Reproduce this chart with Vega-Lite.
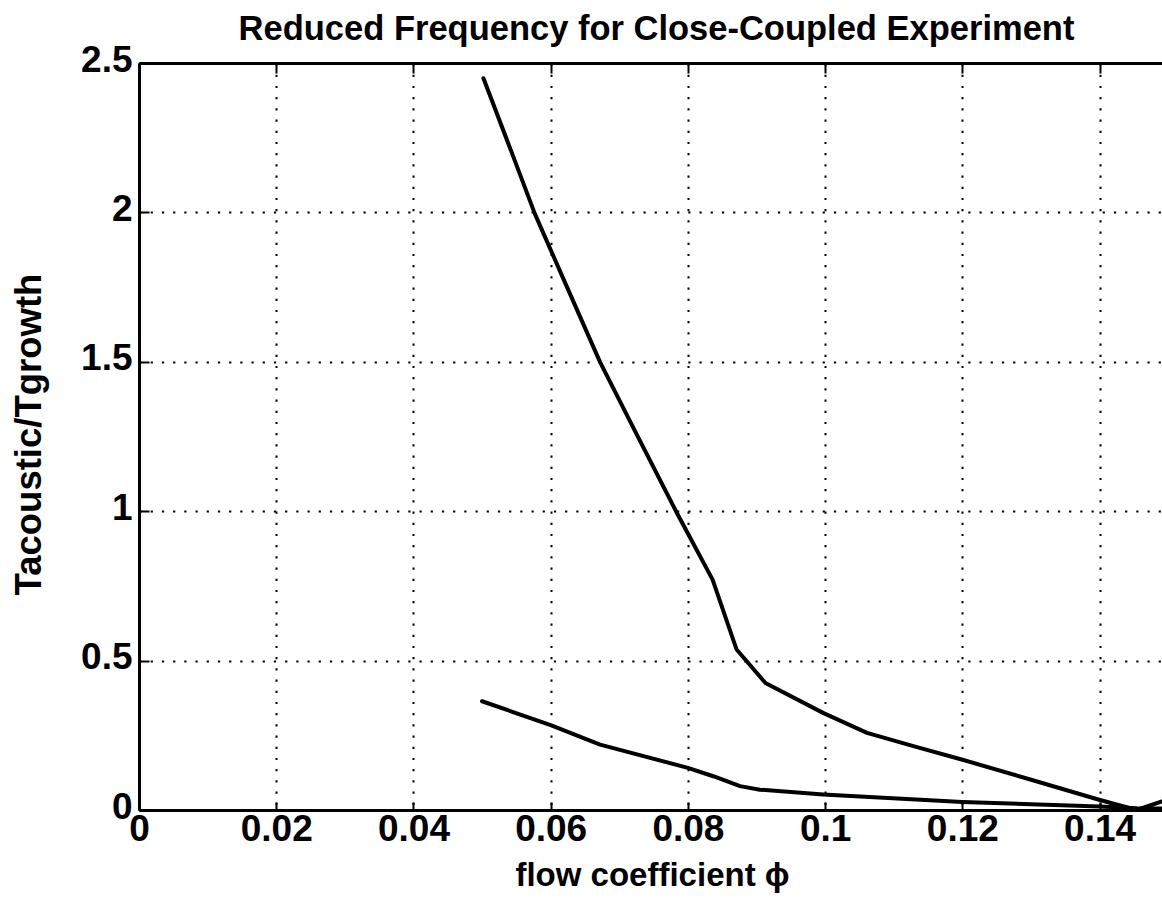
{
  "$schema": "https://vega.github.io/schema/vega-lite/v6.json",
  "autosize": {"type": "none"},
  "padding": {"left": 139, "top": 63, "right": 0, "bottom": 108},
  "width": 1023,
  "height": 747,
  "background": "white",
  "config": {"view": {"stroke": null}, "font": "Liberation Sans"},
  "title": {
    "text": "Reduced Frequency for Close-Coupled Experiment",
    "fontSize": 34.5,
    "fontWeight": "bold",
    "color": "black",
    "frame": "group",
    "anchor": "middle",
    "baseline": "alphabetic",
    "offset": -33,
    "dx": 6
  },
  "data": {
    "values": [
      {"series": "upper", "phi": 0.0502, "ratio": 2.449},
      {"series": "upper", "phi": 0.054, "ratio": 2.22},
      {"series": "upper", "phi": 0.0577, "ratio": 1.995},
      {"series": "upper", "phi": 0.062, "ratio": 1.77},
      {"series": "upper", "phi": 0.0672, "ratio": 1.499},
      {"series": "upper", "phi": 0.0725, "ratio": 1.259},
      {"series": "upper", "phi": 0.0784, "ratio": 0.994},
      {"series": "upper", "phi": 0.0836, "ratio": 0.771},
      {"series": "upper", "phi": 0.0871, "ratio": 0.537},
      {"series": "upper", "phi": 0.0913, "ratio": 0.425},
      {"series": "upper", "phi": 0.0997, "ratio": 0.325},
      {"series": "upper", "phi": 0.1061, "ratio": 0.258},
      {"series": "upper", "phi": 0.113, "ratio": 0.213},
      {"series": "upper", "phi": 0.1199, "ratio": 0.169},
      {"series": "upper", "phi": 0.1299, "ratio": 0.102},
      {"series": "upper", "phi": 0.1398, "ratio": 0.035},
      {"series": "upper", "phi": 0.1454, "ratio": 0.0},
      {"series": "upper", "phi": 0.1491, "ratio": 0.029},
      {"series": "lower", "phi": 0.05, "ratio": 0.364},
      {"series": "lower", "phi": 0.06, "ratio": 0.284},
      {"series": "lower", "phi": 0.0672, "ratio": 0.219},
      {"series": "lower", "phi": 0.08, "ratio": 0.141},
      {"series": "lower", "phi": 0.0837, "ratio": 0.113},
      {"series": "lower", "phi": 0.0876, "ratio": 0.08},
      {"series": "lower", "phi": 0.0905, "ratio": 0.068},
      {"series": "lower", "phi": 0.0997, "ratio": 0.052},
      {"series": "lower", "phi": 0.12, "ratio": 0.027},
      {"series": "lower", "phi": 0.14, "ratio": 0.012},
      {"series": "lower", "phi": 0.1454, "ratio": 0.006},
      {"series": "lower", "phi": 0.1491, "ratio": 0.005}
    ]
  },
  "layer": [
    {
      "mark": {"type": "line", "stroke": "black", "strokeWidth": 4, "strokeCap": "round", "strokeJoin": "round"},
      "encoding": {
        "x": {
          "field": "phi",
          "type": "quantitative",
          "scale": {"domain": [0, 0.1491], "nice": false, "zero": false},
          "axis": {
            "orient": "bottom",
            "values": [0, 0.02, 0.04, 0.06, 0.08, 0.1, 0.12, 0.14],
            "format": "~g",
            "labelFlush": false,
            "labelOverlap": false,
            "labelFontSize": 37,
            "labelFontWeight": "bold",
            "labelColor": "black",
            "labelPadding": 9,
            "domain": true,
            "domainColor": "black",
            "domainWidth": 3,
            "ticks": true,
            "tickSize": -8,
            "tickWidth": 2,
            "tickColor": "black",
            "grid": true,
            "gridColor": "black",
            "gridOpacity": 1,
            "gridWidth": 2,
            "gridDash": [2.2, 9],
            "title": "flow coefficient ϕ",
            "titleFontSize": 33,
            "titleFontWeight": "bold",
            "titleColor": "black",
            "titleBaseline": "alphabetic",
            "titleX": 513,
            "titleY": 75
          }
        },
        "y": {
          "field": "ratio",
          "type": "quantitative",
          "scale": {"domain": [0, 2.5], "nice": false},
          "axis": {
            "orient": "left",
            "values": [0, 0.5, 1, 1.5, 2, 2.5],
            "format": "~g",
            "labelFlush": false,
            "labelOverlap": false,
            "labelFontSize": 37,
            "labelFontWeight": "bold",
            "labelColor": "black",
            "labelPadding": 17,
            "labelOffset": -3,
            "domain": true,
            "domainColor": "black",
            "domainWidth": 3,
            "ticks": true,
            "tickSize": -10,
            "tickWidth": 2,
            "tickColor": "black",
            "grid": true,
            "gridColor": "black",
            "gridOpacity": 1,
            "gridWidth": 2,
            "gridDash": [2.2, 9],
            "title": "Tacoustic/Tgrowth",
            "titleFontSize": 36.5,
            "titleFontWeight": "bold",
            "titleColor": "black",
            "titleBaseline": "alphabetic",
            "titleAngle": -90,
            "titleX": -99,
            "titleY": 371
          }
        },
        "detail": {"field": "series", "type": "nominal"}
      }
    },
    {
      "mark": {"type": "rule", "opacity": 0},
      "encoding": {
        "x": {
          "field": "phi",
          "type": "quantitative",
          "axis": {
            "orient": "top",
            "values": [0.02, 0.04, 0.06, 0.08, 0.1, 0.12, 0.14],
            "labels": false,
            "domain": true,
            "domainColor": "black",
            "domainWidth": 3,
            "ticks": true,
            "tickSize": -10,
            "tickWidth": 2,
            "tickColor": "black",
            "grid": false,
            "title": null
          }
        }
      }
    }
  ],
  "resolve": {"axis": {"x": "independent"}}
}
